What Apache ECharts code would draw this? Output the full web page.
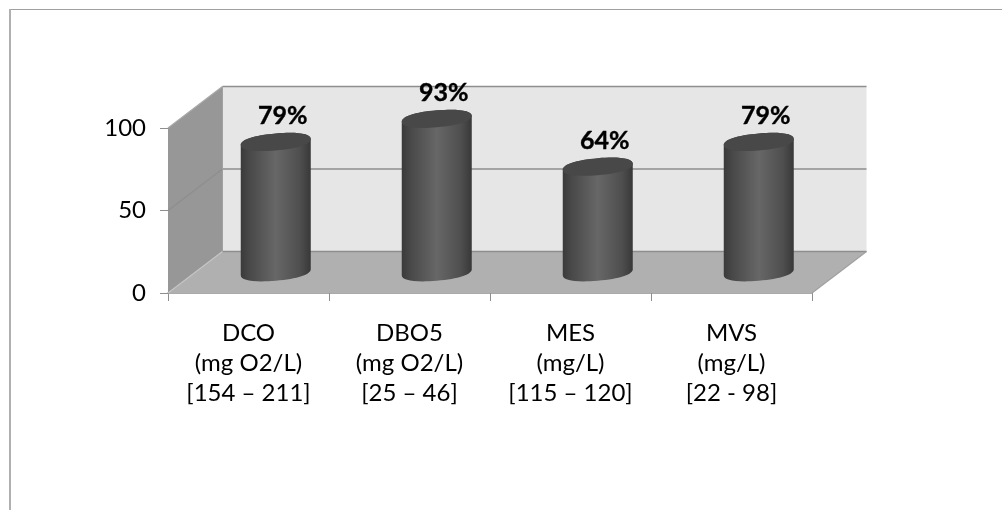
<!DOCTYPE html>
<html>
<head>
<meta charset="utf-8">
<style>html,body{margin:0;padding:0;background:#fff}#c{width:1002px;height:510px}</style>
<script src="https://cdn.jsdelivr.net/npm/echarts@6/dist/echarts.min.js"></script>
</head>
<body>
<div id="c"></div>
<script>
const categories = ['DCO\n(mg O2/L)\n[154 – 211]', 'DBO5\n(mg O2/L)\n[25 – 46]', 'MES\n(mg/L)\n[115 – 120]', 'MVS\n(mg/L)\n[22 - 98]'];
const values = [79, 93, 64, 79];
const yTicks = [0, 50, 100];

const FONT = 'Lato, "Open Sans", sans-serif';
const DX = 54.5, DY = -41.5;           // full depth of the 3D box
const K = 0.62;                        // slightly fuller than a true ellipse

function cylinderPaths(cx, topY, botY) {
  const ux = 35, uy = -3, vy = 8.5;
  const seg = (x0, y0, dx1, dy1, x2, y2, dx2, dy2) =>
    `C${x0 + dx1} ${y0 + dy1} ${x2 + dx2} ${y2 + dy2} ${x2} ${y2}`;
  const arcs = (cy) => {
    const R = [cx + ux, cy + uy], L = [cx - ux, cy - uy], F = [cx, cy + vy], B = [cx, cy - vy];
    return {
      R, L, F, B,
      LF: seg(L[0], L[1], 0, K * vy, F[0], F[1], -K * ux, -K * uy),
      FR: seg(F[0], F[1], K * ux, K * uy, R[0], R[1], 0, K * vy),
      RB: seg(R[0], R[1], 0, -K * vy, B[0], B[1], K * ux, K * uy),
      BL: seg(B[0], B[1], -K * ux, -K * uy, L[0], L[1], 0, -K * vy)
    };
  };
  const t = arcs(topY), b = arcs(botY);
  return {
    body: `M${t.L[0]} ${t.L[1]}L${b.L[0]} ${b.L[1]}${b.LF}${b.FR}L${t.R[0]} ${t.R[1]}${t.RB}${t.BL}Z`,
    top: `M${t.L[0]} ${t.L[1]}${t.LF}${t.FR}${t.RB}${t.BL}Z`
  };
}

function renderBox(params, api) {
  const c = params.coordSys;
  const x0 = c.x, x1 = c.x + c.width, yT = c.y, yB = c.y + c.height, yM = api.coord([0, 50])[1];
  const edge = { stroke: '#8e8e8e', lineWidth: 1.5 };
  const poly = (pts, fill) => ({
    type: 'polygon', shape: { points: pts },
    style: { fill: fill, stroke: 'none' }
  });
  const line = (a, b, st) => ({
    type: 'line', shape: { x1: a[0], y1: a[1], x2: b[0], y2: b[1] }, style: st || edge
  });
  return {
    type: 'group',
    children: [
      poly([[x0 + DX, yT + DY], [x1 + DX, yT + DY], [x1 + DX, yB + DY], [x0 + DX, yB + DY]], '#e6e6e6'),
      poly([[x0, yT], [x0 + DX, yT + DY], [x0 + DX, yB + DY], [x0, yB]], '#979797'),
      poly([[x0, yB], [x0 + DX, yB + DY], [x1 + DX, yB + DY], [x1, yB]], '#b0b0b0'),
      line([x0 + DX, yT + DY], [x1 + DX, yT + DY]),
      line([x0 + DX, yM + DY], [x1 + DX, yM + DY]),
      line([x0 + DX, yB + DY], [x1 + DX, yB + DY]),
      line([x0, yT], [x0 + DX, yT + DY], { stroke: '#a8a8a8', lineWidth: 1.2 }),
      line([x0, yM], [x0 + DX, yM + DY], { stroke: '#8e8e8e', lineWidth: 1.2 }),
      line([x0, yB], [x0 + DX, yB + DY], { stroke: '#c4c4c4', lineWidth: 1.2 }),
      line([x0 + DX, yT + DY], [x0 + DX, yB + DY], { stroke: '#a0a0a0', lineWidth: 1 }),
      line([x1, yB], [x1 + DX, yB + DY], { stroke: '#a0a0a0', lineWidth: 1.2 })
    ]
  };
}

function renderCyl(params, api) {
  const i = api.value(0), v = api.value(1);
  const top = api.coord([i, v]), base = api.coord([i, 0]);
  const cx = top[0] + DX / 2, topY = top[1] + DY / 2, botY = base[1] + DY / 2;
  const p = cylinderPaths(cx, topY, botY);
  const grad = {
    type: 'linear', x: 0, y: 0, x2: 1, y2: 0,
    colorStops: [
      { offset: 0, color: '#3a3a3a' }, { offset: 0.12, color: '#484848' },
      { offset: 0.5, color: '#676767' }, { offset: 0.85, color: '#4e4e4e' },
      { offset: 1, color: '#383838' }
    ]
  };
  return {
    type: 'group',
    children: [
      { type: 'path', shape: { pathData: p.body }, style: { fill: grad } },
      { type: 'path', shape: { pathData: p.top }, style: { fill: '#484848' } },
      {
        type: 'text',
        style: {
          text: v + '%', x: cx + 7, y: topY - 26, align: 'center', verticalAlign: 'middle',
          font: 'bold 25px ' + FONT, fill: '#000', stroke: '#000', lineWidth: 0.4
        }
      }
    ]
  };
}

const chart = echarts.init(document.getElementById('c'), null, { renderer: 'canvas' });
chart.setOption({
  animation: false,
  backgroundColor: '#fff',
  graphic: [
    { type: 'line', shape: { x1: 10, y1: 9.5, x2: 1002, y2: 9.5 }, style: { stroke: '#a0a0a0', lineWidth: 1 } },
    { type: 'line', shape: { x1: 10, y1: 9, x2: 10, y2: 510 }, style: { stroke: '#b0b0b0', lineWidth: 2 } }
  ],
  grid: { left: 168, top: 128, width: 644, height: 165, containLabel: false },
  xAxis: {
    type: 'category', data: categories,
    boundaryGap: true,
    axisLine: { lineStyle: { color: '#8e8e8e', width: 1.5 } },
    axisTick: { show: true, length: 8, lineStyle: { color: '#8e8e8e' } },
    axisLabel: { color: '#000', fontFamily: FONT, fontSize: 24, lineHeight: 30, margin: 25, interval: 0 }
  },
  yAxis: {
    type: 'value', min: yTicks[0], max: yTicks[2], interval: yTicks[1],
    axisLine: { show: true, lineStyle: { color: '#8e8e8e', width: 1 } },
    axisTick: { show: true, length: 8, lineStyle: { color: '#8e8e8e' } },
    axisLabel: { color: '#000', fontFamily: FONT, fontSize: 24, margin: 22, padding: [2, 0, 0, 0] },
    splitLine: { show: false }
  },
  series: [
    { type: 'custom', coordinateSystem: 'cartesian2d', renderItem: renderBox, data: [[0, 0]], z: 1, silent: true, clip: false },
    { type: 'custom', coordinateSystem: 'cartesian2d', renderItem: renderCyl, data: values.map((v, i) => [i, v]), z: 3, clip: false }
  ]
});
</script>
</body>
</html>
